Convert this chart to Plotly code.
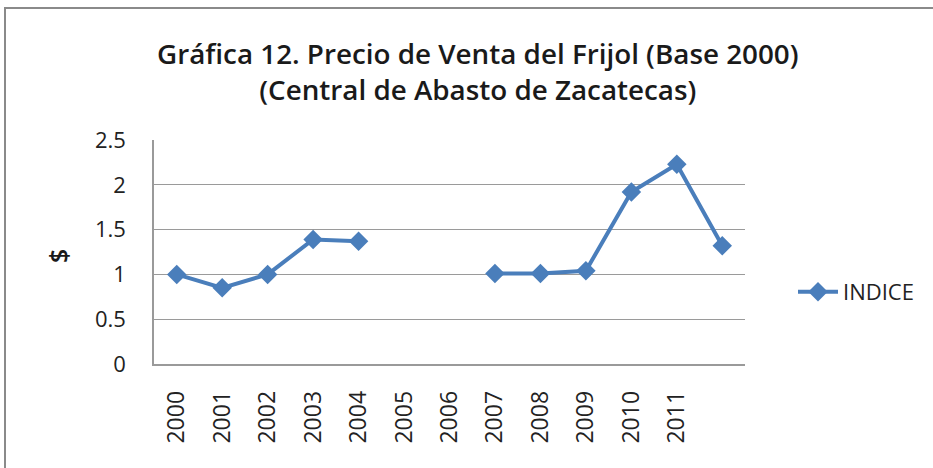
import plotly.graph_objects as go

# Price index of beans, Central de Abasto de Zacatecas (base year 2000)
categories = ["2000", "2001", "2002", "2003", "2004", "2005", "2006",
              "2007", "2008", "2009", "2010", "2011", " "]
indice = [1.00, 0.85, 1.00, 1.39, 1.37, None, None,
          1.01, 1.01, 1.04, 1.92, 2.23, 1.32]
y_ticks = [0, 0.5, 1, 1.5, 2, 2.5]
y_tick_text = ["0", "0.5", "1", "1.5", "2", "2.5"]

title_text = ("Gráfica 12. Precio de Venta del Frijol (Base 2000)<br>"
              "(Central de Abasto de Zacatecas)")

BLUE = "#4a7ebb"
GRID = "#9a9a9a"
FONT = "Open Sans"

W, H = 933, 468
L, R, T, B = 154, 188, 140, 104
pw, ph = W - L - R, H - T - B


def px_x(x):
    return (x - L) / pw


def px_y(y):
    return (H - B - y) / ph


fig = go.Figure()
fig.add_trace(go.Scatter(
    x=categories, y=indice, name="INDICE", mode="lines+markers",
    connectgaps=False,
    line=dict(color=BLUE, width=4),
    marker=dict(symbol="diamond", size=15, color=BLUE),
))

fig.update_layout(
    width=W, height=H,
    margin=dict(l=L, r=R, t=T, b=B),
    paper_bgcolor="white", plot_bgcolor="white",
    font=dict(family=FONT, color="#222222"),
    showlegend=True,
    legend=dict(x=px_x(793), y=px_y(292), xanchor="left", yanchor="middle",
                font=dict(size=22, color="#222222"),
                bgcolor="rgba(0,0,0,0)", itemwidth=40),
    xaxis=dict(type="category", categoryorder="array", categoryarray=categories,
               range=[-0.5, len(categories) - 0.5],
               tickangle=-90, tickfont=dict(size=23, color="#222222"),
               showgrid=False, showline=True, linecolor=GRID, linewidth=1.5,
               ticks="", ticklabelstandoff=16, zeroline=False),
    yaxis=dict(range=[0, 2.5], tickvals=y_ticks, ticktext=y_tick_text,
               tickfont=dict(size=22, color="#222222"),
               showgrid=True, gridcolor=GRID, gridwidth=1.2,
               showline=True, linecolor=GRID, linewidth=1.5,
               ticks="", ticklabelstandoff=22, zeroline=False),
    annotations=[
        dict(text=title_text, xref="paper", yref="paper",
             x=px_x(478), y=px_y(71), xanchor="center", yanchor="middle",
             showarrow=False, align="center",
             font=dict(size=27.8, family=FONT, color="#1a1a1a", weight=600)),
        dict(text="$", xref="paper", yref="paper",
             x=px_x(58), y=px_y(256), xanchor="center", yanchor="middle",
             textangle=-90, showarrow=False,
             font=dict(size=25, family=FONT, color="#1a1a1a", weight=600)),
    ],
    shapes=[
        dict(type="rect", xref="paper", yref="paper",
             x0=px_x(5), x1=px_x(945), y0=px_y(8), y1=px_y(480),
             line=dict(color="#8a8a8a", width=2), layer="below"),
    ],
)

fig.write_html("out.html")
